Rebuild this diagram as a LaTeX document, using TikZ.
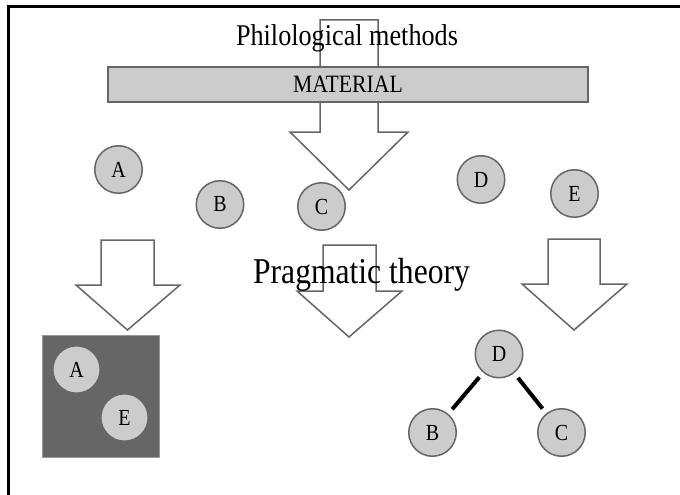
\documentclass[tikz,border=0pt]{standalone}
\usepackage{fontspec}
\setmainfont{Liberation Serif}
\definecolor{edgegray}{HTML}{666666}
\definecolor{lightfill}{HTML}{CCCCCC}
\definecolor{darkfill}{HTML}{666666}
\newcommand{\tallx}[1]{\scalebox{1}[1.15]{#1}}
\begin{document}
\begin{tikzpicture}[x=1pt,y=-1pt,
  circ/.style={circle, draw=edgegray, fill=lightfill, line width=1.5pt, minimum size=47.5pt, inner sep=0pt, font=\fontsize{20}{20}\selectfont},
  barrow/.style={draw=edgegray, fill=white, line width=1.5pt, line join=miter},
  matbox/.style={rectangle, draw=edgegray, fill=lightfill, line width=1.5pt, minimum width=480pt, minimum height=35pt, inner sep=0pt, font=\fontsize{21.7}{22}\selectfont},
  darkbox/.style={rectangle, draw=gray!80, fill=darkfill, line width=0.8pt, minimum width=117pt, minimum height=122pt, inner sep=0pt},
  title/.style={anchor=base, inner sep=0pt},
  treeedge/.style={line width=4pt, black, shorten <=6pt, shorten >=6pt}
]
\useasboundingbox (0,0) rectangle (680,495);
\fill[white] (0,0) rectangle (680,495);
% frame (only top and left edges visible)
\draw[line width=3pt, black] (8.5,495) -- (8.5,6.5) -- (680,6.5);

% top block arrow
\draw[barrow] (320,20) -- (378,20) -- (378,132) -- (408,132) -- (349,190) -- (290,132) -- (320,132) -- cycle;
\node[matbox] (material) at (348,84.5) {\tallx{MATERIAL}};
\node[title, font=\fontsize{26.2}{28}\selectfont] (phil) at (347,46) {\tallx{Philological methods}};

% top circles
\node[circ] (a1) at (118.5,169.5) {\tallx{A}};
\node[circ] (b1) at (220,204.5) {\tallx{B}};
\node[circ] (c1) at (321.5,206.5) {\tallx{C}};
\node[circ] (d1) at (481,179.5) {\tallx{D}};
\node[circ] (e1) at (574.5,193.5) {\tallx{E}};

% three lower block arrows
\draw[barrow] (101,240) -- (154,240) -- (154,285) -- (180,285) -- (127.5,330) -- (76,285) -- (101,285) -- cycle;
\draw[barrow] (323,245) -- (376,245) -- (376,291) -- (402,291) -- (349,337) -- (297,291) -- (323,291) -- cycle;
\draw[barrow] (548,239) -- (600,239) -- (600,284) -- (627,284) -- (574,330) -- (522,284) -- (548,284) -- cycle;
\node[title, font=\fontsize{31.6}{33}\selectfont] (prag) at (361.5,283) {\tallx{Pragmatic theory}};

% grouped result
\node[darkbox] (group) at (100.5,396) {};
\node[circ] (a2) at (76.5,369.5) {\tallx{A}};
\node[circ] (e2) at (124.5,417.5) {\tallx{E}};

% tree result
\node[circ] (d2) at (499,354) {\tallx{D}};
\node[circ] (b2) at (432.5,432.5) {\tallx{B}};
\node[circ] (c2) at (561.5,432.5) {\tallx{C}};
\draw[treeedge] (d2) -- (b2);
\draw[treeedge] (d2) -- (c2);
\end{tikzpicture}
\end{document}
